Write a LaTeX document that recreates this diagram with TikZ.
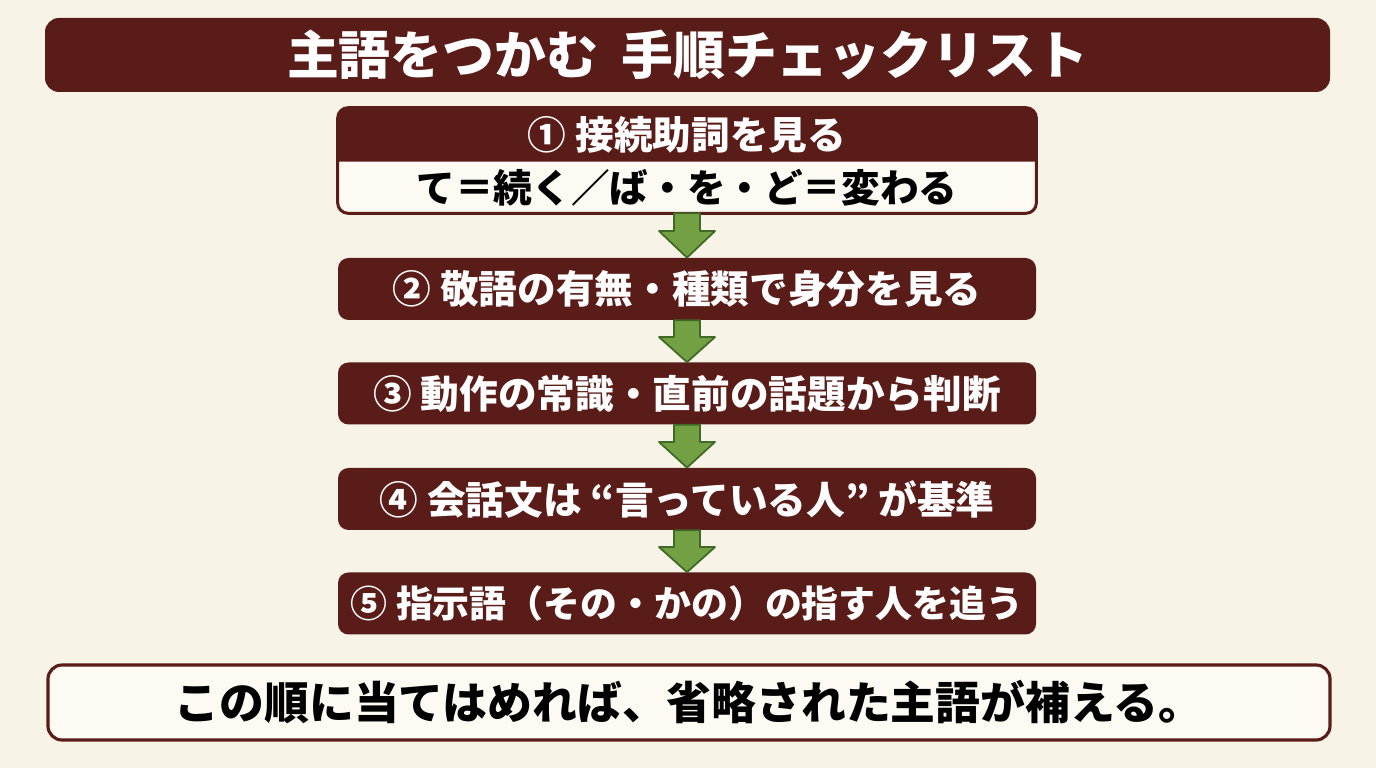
\documentclass[tikz,border=0pt]{standalone}
\usepackage{fontspec}
\setmainfont{Noto Sans CJK JP}
\usetikzlibrary{calc,backgrounds,positioning}

\definecolor{paper}{HTML}{F7F3E7}
\definecolor{wine}{HTML}{5A1C18}
\definecolor{cardwhite}{HTML}{FCFAF3}
\definecolor{leaf}{HTML}{72A043}
\definecolor{leafdark}{HTML}{3F6A25}

\tikzset{
	titlebar/.style={fill=wine, rounded corners=8pt, text=white, inner sep=0pt,
		minimum width=25.7cm, minimum height=1.48cm,
		font=\fontsize{29.5}{34}\selectfont\bfseries},
	stepbox/.style={fill=wine, rounded corners=6pt, text=white, inner sep=0pt,
		minimum width=13.96cm, minimum height=1.24cm,
		font=\fontsize{22}{26}\selectfont\bfseries},
	stephead/.style={text=white, inner sep=0pt,
		minimum width=13.96cm, minimum height=1.08cm,
		font=\fontsize{22}{26}\selectfont\bfseries},
	stepsub/.style={text=black, inner sep=0pt,
		minimum width=13.96cm, minimum height=1.02cm,
		font=\fontsize{22}{26}\selectfont\bfseries},
	notebox/.style={draw=wine, line width=1.8pt, fill=cardwhite, rounded corners=8pt,
		text=black, inner sep=0pt, minimum width=25.64cm, minimum height=1.5cm,
		font=\fontsize{25.5}{30}\selectfont\bfseries},
	downarrow/.style={fill=leaf, draw=leafdark, line width=1pt, line join=round}
}

% green block arrow from one step to the next
\newcommand{\steparrow}[2]{
	\coordinate (m) at ($(#1.south)!0.4!(#2.north)$);
	\draw[downarrow] ($(#1.south)+(-0.26,0)$) -- ($(m)+(-0.26,0)$) -- ($(m)+(-0.56,0)$)
		-- (#2.north) -- ($(m)+(0.56,0)$) -- ($(m)+(0.26,0)$) -- ($(#1.south)+(0.26,0)$) -- cycle;
}

\begin{document}
\begin{tikzpicture}

	\useasboundingbox (0,0) rectangle (27.52,15.36);

	\node[titlebar] (title) at (13.75,14.26) {主語をつかむ\hspace{0.45em}手順チェックリスト};

	\node[stephead] (b1)  at (13.74,12.66) {① 接続助詞を見る};
	\node[stepsub]  (b1s) at (13.74,11.61) {て＝続く／ば・を・ど＝変わる};

	\node[stepbox] (b2) at (13.74,9.58) {② 敬語の有無・種類で身分を見る};
	\node[stepbox] (b3) at (13.74,7.49) {③ 動作の常識・直前の話題から判断};
	\node[stepbox] (b4) at (13.74,5.38) {④ 会話文は “言っている人” が基準};
	\node[stepbox, font=\fontsize{21}{26}\selectfont\bfseries] (b5) at (13.74,3.29) {⑤ 指示語（その・かの）の指す人を追う};

	\node[notebox] (note) at (13.78,1.31) {この順に当てはめれば、省略された主語が補える。};

	\begin{scope}[on background layer]
		\fill[paper] (0,0) rectangle (27.52,15.36);
		\draw[wine, line width=1.7pt, fill=cardwhite, rounded corners=6pt]
			(b1.north west) rectangle (b1s.south east);
		\fill[wine] (b1s.north west) [rounded corners=6pt] -- (b1.north west)
			-- (b1.north east) [sharp corners] -- (b1s.north east) -- cycle;
	\end{scope}

	\steparrow{b1s}{b2}
	\steparrow{b2}{b3}
	\steparrow{b3}{b4}
	\steparrow{b4}{b5}

\end{tikzpicture}
\end{document}
